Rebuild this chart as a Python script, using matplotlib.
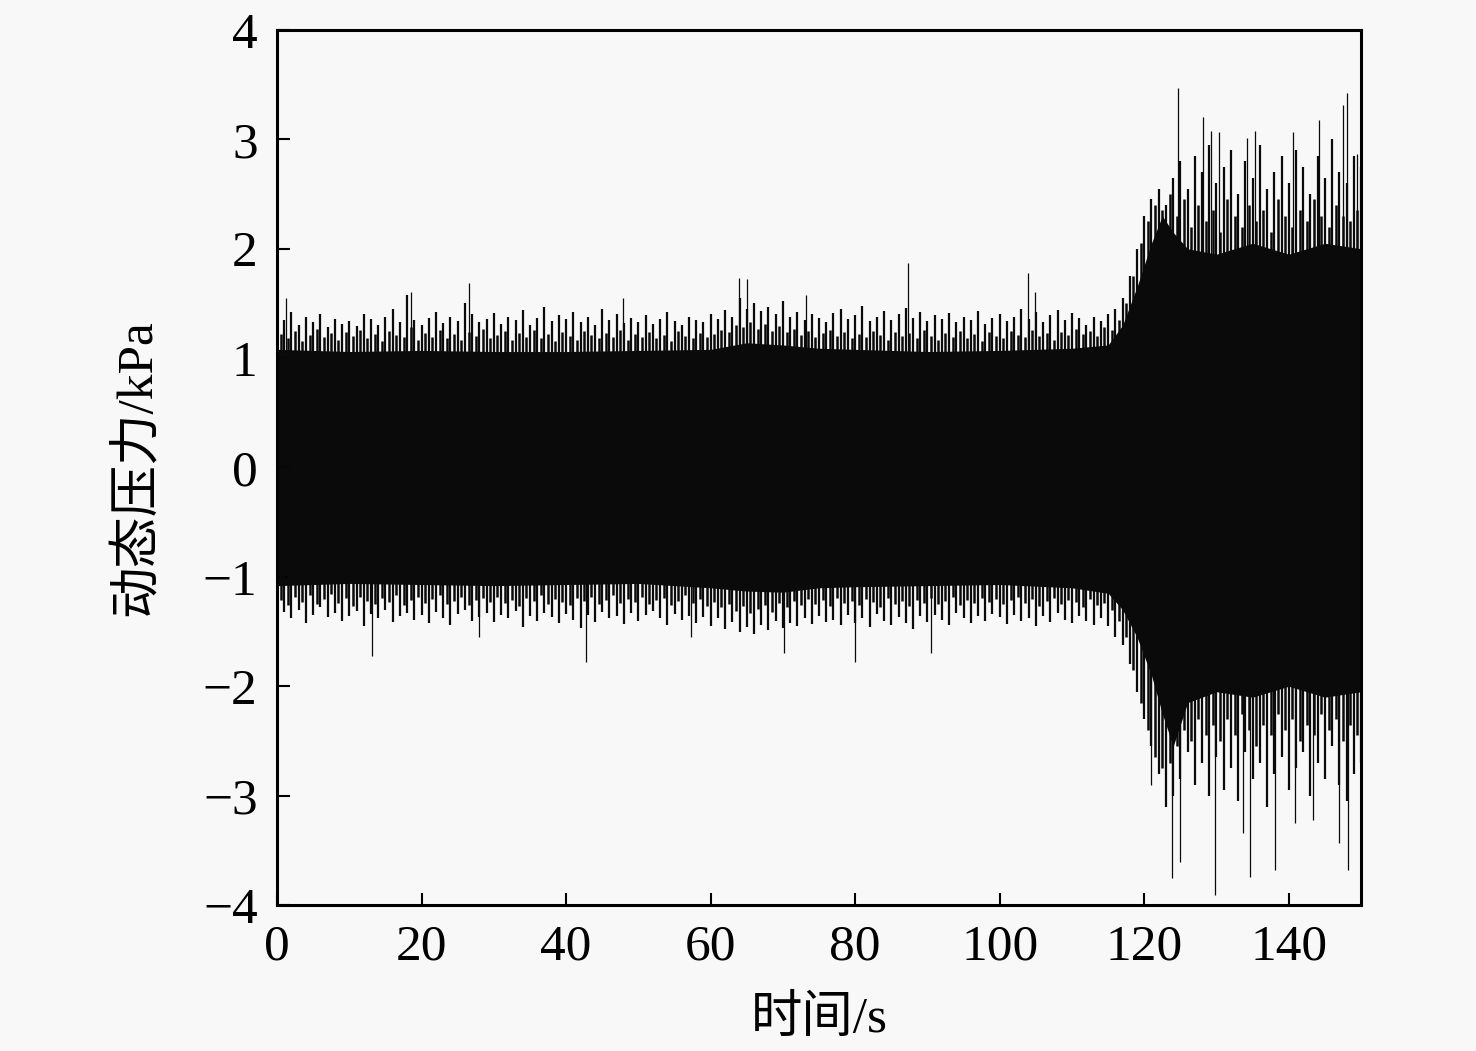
import numpy as np
import matplotlib
matplotlib.use('Agg')
import matplotlib.pyplot as plt

plt.rcParams['font.family'] = ['Liberation Serif', 'Noto Sans CJK SC']
plt.rcParams['axes.unicode_minus'] = True

# peak tips of the signal, one reading per second (kPa)
tip_t = np.arange(0, 151)
tip_hi = [1.48, 1.35, 1.42, 1.30, 1.38, 1.33, 1.40, 1.28, 1.36, 1.31,
          1.34, 1.29, 1.40, 1.36, 1.30, 1.38, 1.45, 1.33, 1.58, 1.35,
          1.30, 1.37, 1.42, 1.32, 1.38, 1.34, 1.50, 1.40, 1.33, 1.36,
          1.41, 1.31, 1.38, 1.35, 1.44, 1.30, 1.37, 1.47, 1.34, 1.39,
          1.36, 1.42, 1.33, 1.38, 1.30, 1.45, 1.35, 1.40, 1.32, 1.37,
          1.33, 1.39, 1.31, 1.36, 1.42, 1.34, 1.30, 1.38, 1.35, 1.33,
          1.40, 1.36, 1.44, 1.38, 1.55, 1.45, 1.50, 1.43, 1.47, 1.40,
          1.52, 1.38, 1.42, 1.35, 1.40, 1.37, 1.33, 1.41, 1.45, 1.36,
          1.39, 1.48, 1.34, 1.38, 1.43, 1.35, 1.40, 1.46, 1.37, 1.42,
          1.34, 1.39, 1.36, 1.41, 1.33, 1.38, 1.35, 1.43, 1.31, 1.37,
          1.40, 1.34, 1.38, 1.45, 1.36, 1.42, 1.33, 1.39, 1.44, 1.35,
          1.41, 1.37, 1.30, 1.38, 1.34, 1.40, 1.45, 1.55, 1.75, 2.00,
          2.30, 2.45, 2.55, 2.40, 2.65, 2.80, 2.55, 2.85, 2.70, 2.95,
          2.60, 2.75, 2.90, 2.50, 2.80, 2.65, 2.95, 2.55, 2.70, 2.85,
          2.60, 2.90, 2.75, 2.50, 2.85, 2.65, 3.00, 2.70, 2.60, 2.85,
          2.75]
tip_lo = [-1.40, -1.32, -1.38, -1.30, -1.42, -1.35, -1.28, -1.37, -1.33, -1.40,
          -1.36, -1.31, -1.45, -1.34, -1.38, -1.30, -1.41, -1.36, -1.33, -1.39,
          -1.35, -1.42, -1.32, -1.38, -1.44, -1.34, -1.30, -1.40, -1.37, -1.33,
          -1.41, -1.35, -1.38, -1.31, -1.46, -1.36, -1.40, -1.33, -1.37, -1.42,
          -1.34, -1.39, -1.47, -1.35, -1.41, -1.32, -1.38, -1.36, -1.43, -1.33,
          -1.40, -1.35, -1.31, -1.38, -1.44, -1.34, -1.39, -1.36, -1.42, -1.37,
          -1.45, -1.38, -1.48, -1.41, -1.50, -1.46, -1.52, -1.44, -1.49, -1.40,
          -1.47, -1.42, -1.45, -1.38, -1.43, -1.36, -1.41, -1.39, -1.44, -1.35,
          -1.42, -1.38, -1.46, -1.34, -1.40, -1.44, -1.37, -1.42, -1.48, -1.36,
          -1.41, -1.35, -1.39, -1.44, -1.33, -1.38, -1.42, -1.36, -1.40, -1.34,
          -1.37, -1.43, -1.35, -1.40, -1.38, -1.45, -1.36, -1.41, -1.33, -1.39,
          -1.42, -1.36, -1.40, -1.44, -1.38, -1.45, -1.55, -1.62, -1.80, -2.05,
          -2.30, -2.55, -2.80, -3.10, -3.00, -2.85, -2.60, -2.90, -2.70, -3.00,
          -2.65, -2.95, -2.75, -3.05, -2.60, -2.85, -2.70, -3.10, -2.80, -2.65,
          -2.95, -2.75, -2.60, -3.00, -2.70, -2.85, -2.55, -2.90, -3.05, -2.80,
          -2.70]

# smaller peaks between the seconds (t = 0.5, 1.5, ... 149.5)
mid_t = np.arange(0.5, 150, 1.0)
mid_hi = [1.22, 1.18, 1.25, 1.16, 1.21, 1.27, 1.19, 1.23, 1.17, 1.24,
          1.20, 1.26, 1.18, 1.22, 1.16, 1.25, 1.21, 1.19, 1.28, 1.17,
          1.23, 1.19, 1.26, 1.18, 1.22, 1.17, 1.24, 1.20, 1.27, 1.18,
          1.21, 1.25, 1.17, 1.23, 1.19, 1.26, 1.18, 1.22, 1.16, 1.24,
          1.20, 1.17, 1.25, 1.21, 1.18, 1.23, 1.19, 1.26, 1.17, 1.22,
          1.19, 1.24, 1.18, 1.21, 1.16, 1.25, 1.20, 1.18, 1.23, 1.19,
          1.22, 1.26, 1.24, 1.30, 1.28, 1.33, 1.27, 1.31, 1.25, 1.29,
          1.24, 1.27, 1.21, 1.25, 1.19, 1.23, 1.26, 1.20, 1.24, 1.18,
          1.22, 1.19, 1.25, 1.21, 1.17, 1.24, 1.20, 1.23, 1.18, 1.26,
          1.20, 1.17, 1.23, 1.19, 1.25, 1.18, 1.22, 1.16, 1.24, 1.20,
          1.18, 1.25, 1.21, 1.19, 1.26, 1.20, 1.23, 1.17, 1.24, 1.21,
          1.27, 1.22, 1.25, 1.20, 1.28, 1.26, 1.35, 1.50, 1.75, 2.05,
          2.25, 2.40, 2.35, 2.50, 2.30, 2.45, 2.20, 2.40, 2.25, 2.35,
          2.15, 2.45, 2.30, 2.20, 2.40, 2.25, 2.35, 2.15, 2.45, 2.30,
          2.20, 2.35, 2.25, 2.45, 2.30, 2.20, 2.40, 2.30, 2.25, 2.35]
mid_lo = [-1.21, -1.26, -1.18, -1.23, -1.17, -1.25, -1.20, -1.16, -1.24, -1.19,
          -1.27, -1.18, -1.22, -1.25, -1.19, -1.23, -1.17, -1.26, -1.21, -1.18,
          -1.24, -1.20, -1.17, -1.25, -1.22, -1.18, -1.26, -1.21, -1.19, -1.23,
          -1.18, -1.24, -1.21, -1.27, -1.19, -1.22, -1.17, -1.25, -1.20, -1.23,
          -1.26, -1.19, -1.22, -1.18, -1.25, -1.21, -1.17, -1.24, -1.20, -1.23,
          -1.18, -1.25, -1.21, -1.19, -1.26, -1.22, -1.17, -1.24, -1.20, -1.27,
          -1.23, -1.28, -1.25, -1.31, -1.27, -1.33, -1.29, -1.26, -1.32, -1.24,
          -1.28, -1.22, -1.26, -1.20, -1.25, -1.21, -1.27, -1.19, -1.24, -1.22,
          -1.26, -1.20, -1.23, -1.28, -1.19, -1.25, -1.22, -1.27, -1.21, -1.24,
          -1.19, -1.25, -1.22, -1.18, -1.26, -1.21, -1.24, -1.19, -1.23, -1.20,
          -1.25, -1.21, -1.18, -1.24, -1.20, -1.27, -1.22, -1.19, -1.25, -1.21,
          -1.23, -1.28, -1.20, -1.26, -1.24, -1.30, -1.40, -1.55, -1.85, -2.15,
          -2.40, -2.65, -2.75, -2.70, -2.55, -2.40, -2.50, -2.30, -2.45, -2.35,
          -2.50, -2.30, -2.45, -2.25, -2.40, -2.55, -2.35, -2.45, -2.25, -2.40,
          -2.30, -2.50, -2.35, -2.45, -2.25, -2.40, -2.30, -2.50, -2.35, -2.45]

# solid (dense) part of the signal band
core_t = [0, 10, 20, 30, 40, 50, 60, 65, 70, 75, 80, 90, 100, 110, 115,
          117, 119, 121, 122.5, 124, 126, 130, 135, 140, 145, 150]
core_hi = [1.08, 1.06, 1.07, 1.06, 1.06, 1.07, 1.08, 1.14, 1.12, 1.09, 1.08,
           1.06, 1.07, 1.09, 1.12, 1.30, 1.65, 2.05, 2.30, 2.15, 2.00, 1.95,
           2.05, 1.95, 2.05, 2.00]
core_lo = [-1.08, -1.06, -1.07, -1.08, -1.07, -1.06, -1.10, -1.13, -1.14,
           -1.10, -1.09, -1.08, -1.07, -1.10, -1.15, -1.30, -1.55, -1.90,
           -2.25, -2.55, -2.15, -2.05, -2.10, -2.00, -2.10, -2.05]

# isolated large spikes
spike_up_t = [1.2, 18.5, 26.6, 47.9, 63.9, 65.0, 73.2, 87.3, 103.9, 104.9,
              124.7, 128.2, 129.2, 130.3, 134.2, 135.3, 140.6, 144.2, 147.5, 148.0, 149.5]
spike_up_v = [1.55, 1.60, 1.69, 1.55, 1.73, 1.72, 1.58, 1.87, 1.78, 1.60,
              3.47, 3.20, 3.08, 3.07, 3.01, 3.08, 3.07, 3.18, 3.31, 3.42, 2.87]
spike_dn_t = [13.1, 28.0, 42.8, 57.3, 70.2, 80.0, 90.5,
              121.0, 123.8, 124.9, 129.8, 133.6, 134.6, 138.1, 140.9, 143.4, 146.9, 148.2]
spike_dn_v = [-1.72, -1.55, -1.78, -1.55, -1.70, -1.78, -1.70,
              -2.90, -3.75, -3.61, -3.91, -3.34, -3.74, -3.68, -3.25, -3.22, -3.43, -3.68]

fig = plt.figure(figsize=(14.76, 10.51), dpi=100, facecolor='#f8f8f8')
ax = fig.add_axes([0.1877, 0.1389, 0.7344, 0.8326])
ax.set_facecolor('#f8f8f8')

ax.fill_between(core_t, core_lo, core_hi, color='#0a0a0a', lw=0)
ax.vlines(mid_t, 0, mid_hi, color='#0a0a0a', lw=1.8)
ax.vlines(mid_t, mid_lo, 0, color='#0a0a0a', lw=1.8)
ax.vlines(tip_t, 0, tip_hi, color='#0a0a0a', lw=1.6)
ax.vlines(tip_t, tip_lo, 0, color='#0a0a0a', lw=1.6)
ax.vlines(spike_up_t, 0, spike_up_v, color='#0a0a0a', lw=0.9)
ax.vlines(spike_dn_t, spike_dn_v, 0, color='#0a0a0a', lw=0.9)

ax.set_xlim(0, 150)
ax.set_ylim(-4, 4)
ax.set_xticks([0, 20, 40, 60, 80, 100, 120, 140])
ax.set_yticks([-4, -3, -2, -1, 0, 1, 2, 3, 4])
ax.tick_params(direction='in', length=9, width=1.5, labelsize=37, pad=14,
               top=False, right=False)
for s in ax.spines.values():
    s.set_linewidth(2.2)

ax.set_xlabel('时间/s', fontsize=37, labelpad=18)
ax.set_ylabel('动态压力/kPa', fontsize=37, labelpad=30)

fig.savefig('out.png', dpi=100, facecolor=fig.get_facecolor())
